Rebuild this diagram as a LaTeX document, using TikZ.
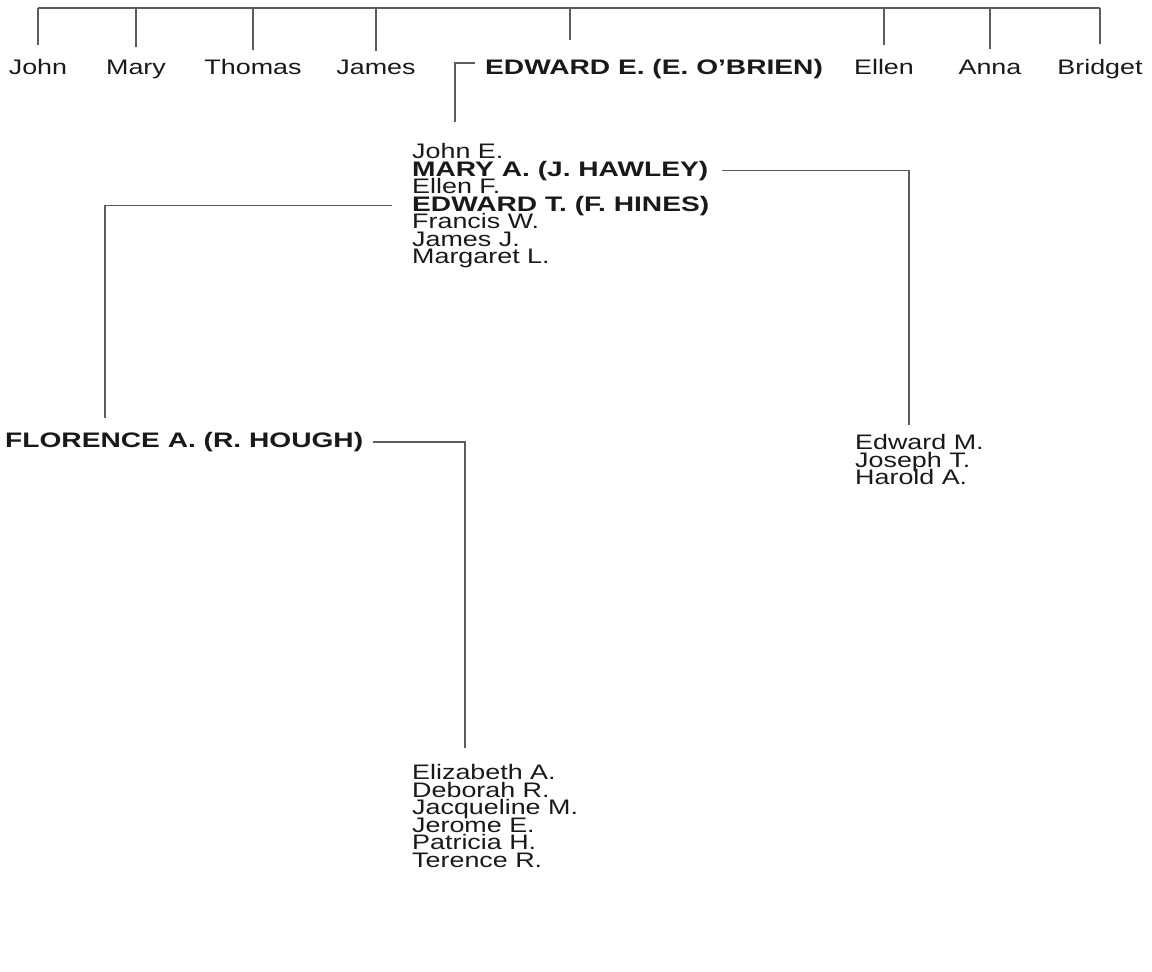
\documentclass[tikz,border=0pt]{standalone}
\usepackage{fontspec}
\setmainfont{Liberation Sans}[FakeStretch=1.28,BoldFeatures={FakeStretch=1.34}]
\definecolor[named]{TreeInk}{gray}{0.1}
\definecolor[named]{TreeLine}{gray}{0.36}
\newcommand{\drawfam}{%
  \draw[famline]
}
\tikzset{
  person/.style={inner sep=2pt,anchor=base west,text=TreeInk,
    font=\fontsize{21}{17.5}\selectfont},
  spouse/.style={person,font=\fontsize{21}{17.5}\selectfont\bfseries},
  sibling/.style={person,anchor=base},
  famline/.style={draw=TreeLine,line width=1.2pt},
}

\begin{document}
\begin{tikzpicture}[x=1pt,y=-1pt]
      \useasboundingbox (0,0) rectangle (1152,972);

      % Top row {{{

      \coordinate (bar) at (0,8);
      \node[sibling] (john) at (38,74.5) {John};
      \node[sibling] (mary) at (136,74.5) {Mary};
      \node[sibling] (thomas) at (253,74.5) {Thomas};
      \node[sibling] (james) at (376,74.5) {James};
      \node[spouse] (edwardE) at (483,74.5) {EDWARD E. (E. O'BRIEN)};
      \node[sibling] (ellen) at (884,74.5) {Ellen};
      \node[sibling] (anna) at (990,74.5) {Anna};
      \node[sibling] (bridget) at (1100,74.5) {Bridget};
      \coordinate (edtick) at ([xshift=87pt]edwardE.north west);

      \drawfam[line width=1.6pt] (bar -| john) -- (bar -| bridget);
      \drawfam[shorten >=12pt] (bar -| john) -- (john);
      \drawfam[shorten >=11pt] (bar -| mary) -- (mary);
      \drawfam[shorten >=7pt] (bar -| thomas) -- (thomas);
      \drawfam[shorten >=7pt] (bar -| james) -- (james);
      \drawfam[shorten >=17pt] (bar -| edtick) -- (edtick);
      \drawfam[shorten >=12pt] (bar -| ellen) -- (ellen);
      \drawfam[shorten >=9pt] (bar -| anna) -- (anna);
      \drawfam[shorten >=13pt] (bar -| bridget) -- (bridget);

      % }}}

      % Edward E. and his children {{{

      \node[person] (johnE) at (410,158.5) {John E.};
      \node[spouse] (maryA) at (410,176) {MARY A. (J. HAWLEY)};
      \node[person] (ellenF) at (410,193.5) {Ellen F.};
      \node[spouse] (edwardT) at (410,211) {EDWARD T. (F. HINES)};
      \node[person] (francisW) at (410,228.5) {Francis W.};
      \node[person] (jamesJ) at (410,246) {James J.};
      \node[person] (margaretL) at (410,263.5) {Margaret L.};

      \drawfam[shorten <=8pt,shorten >=19pt]
        ([yshift=6pt]edwardE.west) -| ([xshift=45pt]johnE.north west);

      % }}}

      % Mary A. {{{

      \node[person] (edwardM) at (853,449.5) {Edward M.};
      \node[person] (josephT) at (853,467) {Joseph T.};
      \node[person] (haroldA) at (853,484.5) {Harold A.};

      \drawfam[shorten <=12pt,shorten >=7pt]
        (maryA.east) -| ([xshift=56pt]edwardM.north west);

      % }}}

      % Edward T. and Florence A. {{{

      \node[spouse] (florence) at (3,447.5) {FLORENCE A. (R. HOUGH)};

      \node[person] (elizabethA) at (410,779.5) {Elizabeth A.};
      \node[person] (deborahR) at (410,797) {Deborah R.};
      \node[person] (jacquelineM) at (410,814.5) {Jacqueline M.};
      \node[person] (jeromeE) at (410,832) {Jerome E.};
      \node[person] (patriciaH) at (410,849.5) {Patricia H.};
      \node[person] (terenceR) at (410,867) {Terence R.};

      \drawfam[shorten <=18pt,shorten >=12pt]
        (edwardT.west) -| ([xshift=102pt]florence.north west);
      \drawfam[shorten <=8pt,shorten >=14pt]
        (florence.east) -| ([xshift=55pt]elizabethA.north west);

      % }}}

\end{tikzpicture}
\end{document}
